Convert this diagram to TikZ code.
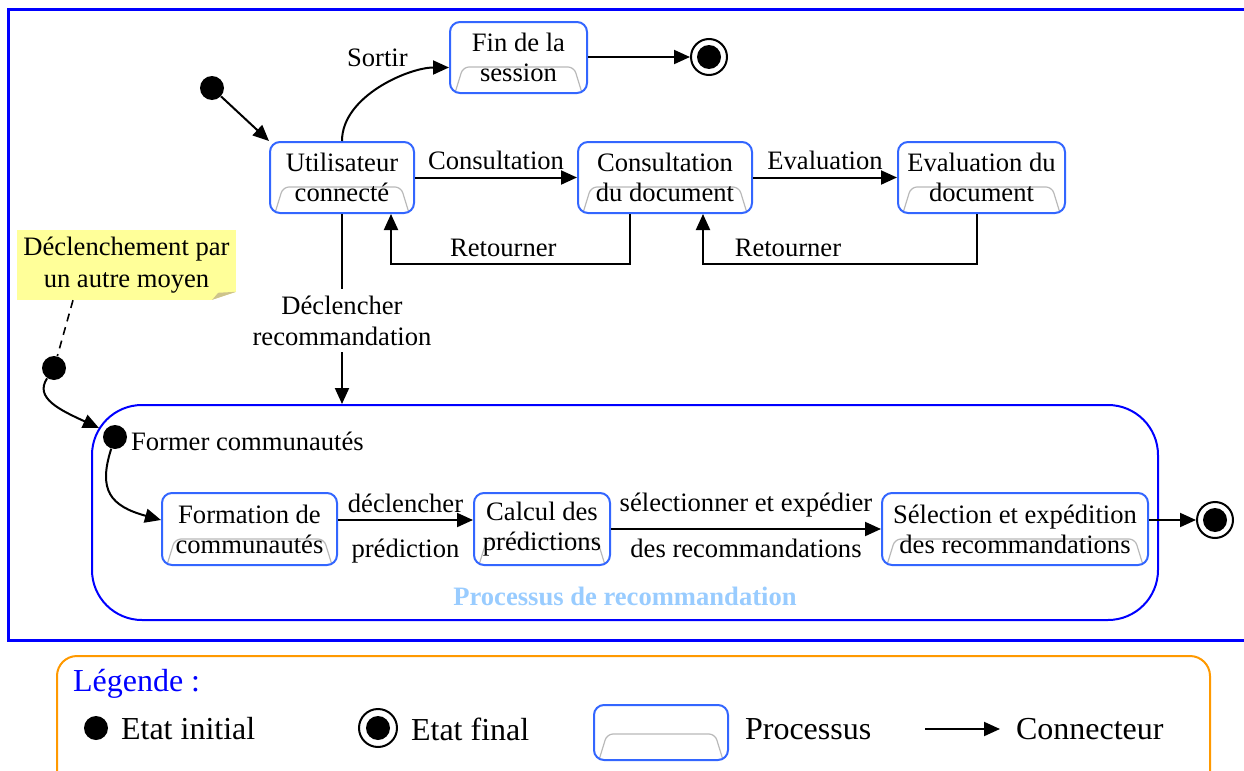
\documentclass[tikz,border=0pt]{standalone}
\usepackage{fontspec}
\setmainfont{Liberation Serif}
\usetikzlibrary{arrows.meta,positioning,calc}

\definecolor{bordproc}{RGB}{51,102,255}
\definecolor{bleuclair}{RGB}{153,204,255}
\definecolor{jaunenote}{RGB}{255,255,153}
\definecolor{pli}{RGB}{205,195,140}
\definecolor{orangeleg}{RGB}{255,153,0}

\begin{document}
\begin{tikzpicture}[x=0.5pt,y=-0.5pt,
  every node/.style={font=\fontsize{13.3}{15}\selectfont},
  processus/.style={draw=bordproc, line width=1pt, rounded corners=5pt, align=center,
    minimum height=35.5pt, inner sep=2pt,
    path picture={\draw[gray!55, line width=0.6pt, rounded corners=3pt]
      ([xshift=2.5pt]path picture bounding box.south west)
      -- ([xshift=6.5pt,yshift=13pt]path picture bounding box.south west)
      -- ([xshift=-6.5pt,yshift=13pt]path picture bounding box.south east)
      -- ([xshift=-2.5pt]path picture bounding box.south east);}},
  etatinit/.style={circle, fill=black, minimum size=12pt, inner sep=0pt},
  etatfinal/.style={circle, draw, line width=1pt, minimum size=18pt, inner sep=0pt,
    path picture={\fill (path picture bounding box.center) circle (6pt);}},
  note/.style={fill=jaunenote, align=center, minimum width=109.5pt, minimum height=33pt,
    font=\fontsize{13.3}{16}\selectfont,
    path picture={
      \fill[white] (path picture bounding box.south east) -- ++(0,4pt) -- ++(-12pt,-4pt) -- cycle;
      \fill[pli] ([yshift=4pt]path picture bounding box.south east) -- ++(-12pt,-4pt) -- ++(3pt,3.5pt) -- cycle;}},
  fleche/.style={-{Triangle[length=8pt,width=7pt]}, line width=1pt},
  legende/.style={anchor=west, font=\fontsize{16}{18}\selectfont},
]
\useasboundingbox (0,0) rectangle (1244,771);
\clip (0,0) rectangle (1244,771);

% cadre general
\draw[blue, line width=1.5pt] (1260,9) -- (8,9) -- (8,640) -- (1260,640);

% etats et processus du haut
\node[etatinit] (debut) at (212,88) {};
\node[processus, minimum width=72pt] (util) at (342,177.5) {Utilisateur\\connecté};
\node[processus, minimum width=68.5pt] (fin) at (518.5,57.5) {Fin de la\\session};
\node[etatfinal] (finsess) at (709,57) {};
\node[processus, minimum width=87pt] (consult) at (665,177.5) {Consultation\\du document};
\node[processus, minimum width=83.5pt] (eval) at (981.5,177.5) {Evaluation du\\document};

% note
\node[note] (autre) at (126.5,265) {Déclenchement par\\un autre moyen};
\node[etatinit] (debutbis) at (54,368) {};

% processus de recommandation
\node[draw=blue, line width=1pt, rounded corners=25pt, minimum width=533pt, minimum height=107.5pt] (reco) at (625,512.5) {};
\node[text=bleuclair, font=\fontsize{13.3}{15}\selectfont\bfseries] (titre) at (625,596) {Processus de recommandation};
\coordinate (entree) at (99,428);
\node[etatinit] (debutcom) at (115,437) {};
\node[anchor=west] (former) at (124,441) {Former communautés};
\node[processus, minimum width=87.5pt, minimum height=36pt] (form) at (249.5,529) {Formation de\\communautés};
\node[processus, minimum width=68pt, minimum height=36pt] (calcul) at (542,529) {Calcul des\\prédictions};
\node[processus, minimum width=133pt, minimum height=36pt] (select) at (1015,529) {Sélection et expédition\\des recommandations};
\node[etatfinal] (finreco) at (1215,520) {};

% connecteurs
\draw[fleche] (debut) -- (util.north west);
\draw[fleche] (util.north) .. controls +(0,-45) and +(-40,0) .. ([yshift=-5pt]fin.west)
  node[pos=0.74, above left=-1pt] {Sortir};
\draw[fleche] (fin.east |- finsess) -- (finsess);
\draw[fleche] (util) -- node[above] {Consultation} (consult);
\draw[fleche] (consult) -- node[above] {Evaluation} (eval);
\draw[fleche] ([xshift=-17.5pt]consult.south) -- ++(0,50) -| node[pos=0.265, above] {Retourner} ([xshift=24.5pt]util.south);
\draw[fleche] ([xshift=-2.25pt]eval.south) -- ++(0,50) -| node[pos=0.345, above] {Retourner} ([xshift=19pt]consult.south);
\draw[fleche] (util.south) -- node[fill=white, pos=0.56, align=center, font=\fontsize{13.3}{15.5}\selectfont] {Déclencher\\recommandation} (util.south |- reco.north);
\draw[dashed, dash pattern=on 4pt off 3pt, line width=0.8pt] ([xshift=-26.75pt]autre.south) -- (debutbis);
\draw[fleche] (debutbis) .. controls (34,398) and (60,410) .. (entree);
\draw[fleche] (debutcom) .. controls (98,490) and (110,506) .. ([yshift=4.5pt]form.west);
\draw[fleche] ([yshift=4.5pt]form.east) -- node[above] {déclencher} node[below=5.5pt] {prédiction} ([yshift=4.5pt]calcul.west);
\draw[fleche] (calcul) -- node[above=2pt] {sélectionner et expédier} node[below=1pt] {des recommandations} (select);
\draw[fleche] (select.east |- finreco) -- (finreco);

% legende
\draw[orangeleg, line width=1pt, rounded corners=10pt] (57,656) rectangle (1210,800);
\node[legende, text=blue] (titreleg) at (66,684) {Légende :};
\node[etatinit] (leginit) at (96,728) {};
\node[legende] (txtinit) at (114,729) {Etat initial};
\node[etatfinal, minimum size=19pt] (legfinal) at (378,728) {};
\node[legende] (txtfinal) at (404,729) {Etat final};
\node[processus, minimum width=67pt, minimum height=27.5pt] (legproc) at (661,732.5) {};
\node[legende] (txtproc) at (738,729) {Processus};
\node[legende] (txtconn) at (1009,729) {Connecteur};
\draw[fleche] ([xshift=-42pt]txtconn.west) -- ([xshift=-4.5pt]txtconn.west);
\end{tikzpicture}
\end{document}
